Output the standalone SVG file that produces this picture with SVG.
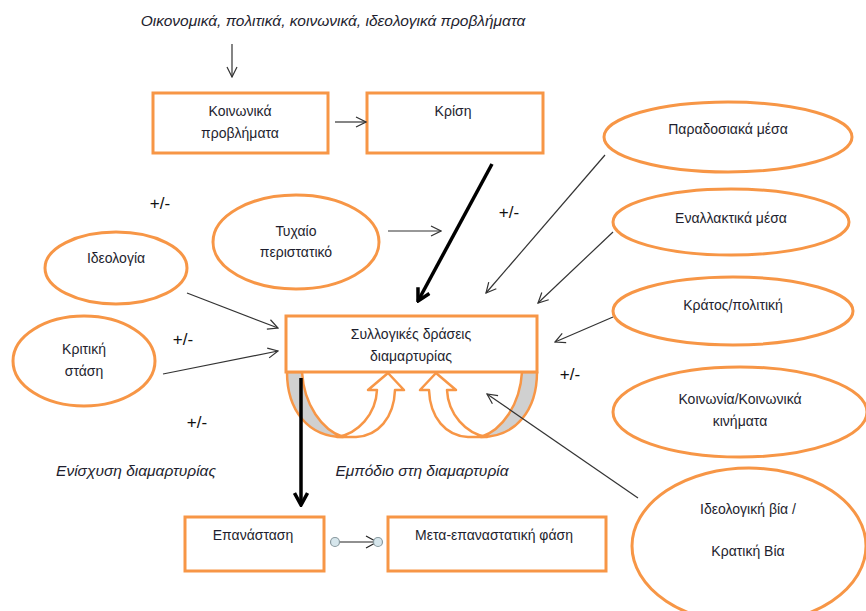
<svg xmlns="http://www.w3.org/2000/svg" width="866" height="611" viewBox="0 0 866 611">
<defs>
<style>
.box{fill:#fff;stroke:#f79646;stroke-width:3}
.ell{fill:#fff;stroke:#f79646;stroke-width:3}
.t{font-family:"Liberation Sans",Arial,sans-serif;font-size:14px;fill:#1e1e2e;text-anchor:middle}
.it{font-style:italic;font-size:15.5px}
.pm{font-family:"Liberation Sans",Arial,sans-serif;font-size:17px;fill:#111;text-anchor:middle}
.thin{stroke:#333;stroke-width:1.2;fill:none;marker-end:url(#open)}
.thick{stroke:#000;stroke-width:3.5;fill:none;marker-end:url(#bold)}
.grey{fill:#d0d0d0;stroke:#f79646;stroke-width:2.5;stroke-linejoin:round}
.front{fill:#fff;stroke:#f79646;stroke-width:2.5;stroke-linejoin:round}
.dot{fill:#d6e6ec;stroke:#8a9aa0;stroke-width:1.2}
</style>
<marker id="open" viewBox="0 0 12 12" refX="11" refY="6" markerWidth="12" markerHeight="12" markerUnits="userSpaceOnUse" orient="auto">
<path d="M1,1 L11,6 L1,11" fill="none" stroke="#333" stroke-width="1.2"/>
</marker>
<marker id="bold" viewBox="0 0 16 16" refX="14" refY="8" markerWidth="16" markerHeight="16" markerUnits="userSpaceOnUse" orient="auto">
<path d="M2,1.5 L14,8 L2,14.5" fill="none" stroke="#000" stroke-width="3.5" stroke-linejoin="miter"/>
</marker>
</defs>
<rect width="866" height="611" fill="#fff"/>

<text class="t it" x="333" y="26">Οικονομικά, πολιτικά, κοινωνικά, ιδεολογικά προβλήματα</text>

<g id="n-koinonika">
<rect class="box" x="153" y="93" width="175" height="60"/>
<text class="t" x="240" y="116">Κοινωνικά</text>
<text class="t" x="240" y="138">προβλήματα</text>
</g>
<g id="n-krisi">
<rect class="box" x="367" y="93" width="176" height="60"/>
<text class="t" x="453" y="116">Κρίση</text>
</g>

<g id="n-ideologia">
<ellipse class="ell" cx="116" cy="268" rx="71" ry="36"/>
<text class="t" x="116" y="263">Ιδεολογία</text>
</g>
<g id="n-kritiki">
<ellipse class="ell" cx="84" cy="361" rx="71" ry="45"/>
<text class="t" x="84" y="354">Κριτική</text>
<text class="t" x="84" y="376">στάση</text>
</g>
<g id="n-tyxaio">
<ellipse class="ell" cx="296" cy="242" rx="83" ry="47"/>
<text class="t" x="296" y="236">Τυχαίο</text>
<text class="t" x="296" y="257">περιστατικό</text>
</g>

<g id="n-paradosiaka">
<ellipse class="ell" cx="728" cy="137" rx="124" ry="35"/>
<text class="t" x="728" y="134">Παραδοσιακά μέσα</text>
</g>
<g id="n-enallaktika">
<ellipse class="ell" cx="731" cy="222" rx="118" ry="33"/>
<text class="t" x="731" y="223">Εναλλακτικά μέσα</text>
</g>
<g id="n-kratos">
<ellipse class="ell" cx="733" cy="311" rx="120" ry="34"/>
<text class="t" x="733" y="310">Κράτος/πολιτική</text>
</g>
<g id="n-koinonia">
<ellipse class="ell" cx="740" cy="412" rx="127" ry="45"/>
<text class="t" x="740" y="404">Κοινωνία/Κοινωνικά</text>
<text class="t" x="740" y="426">κινήματα</text>
</g>
<g id="n-via">
<ellipse class="ell" cx="749" cy="546" rx="117" ry="78"/>
<text class="t" x="748" y="514">Ιδεολογική βία /</text>
<text class="t" x="748" y="556">Κρατική Βία</text>
</g>

<g id="n-syllogikes">
<path class="grey" d="M287,372 C287,410 308,437 343,437 C322,430 304,405 302,372 Z"/>
<path class="front" d="M337,437 C358,434 376,414 377,390 L368,390 L388,373 L404,390 L395,390 C394,418 378,436 356,437 Z"/>
<path class="grey" d="M537,372 C537,410 516,437 481,437 C502,430 520,405 522,372 Z"/>
<path class="front" d="M487,437 C466,434 448,414 447,390 L456,390 L436,373 L420,390 L429,390 C430,418 446,436 468,437 Z"/>
<rect class="box" x="286" y="316" width="251" height="56"/>
<text class="t" x="411" y="339">Συλλογικές δράσεις</text>
<text class="t" x="411" y="361">διαμαρτυρίας</text>
</g>

<g id="n-epanastasi">
<rect class="box" x="185" y="517" width="139" height="54"/>
<text class="t" x="253" y="540">Επανάσταση</text>
</g>
<g id="n-meta">
<rect class="box" x="388" y="517" width="218" height="54"/>
<text class="t" x="494" y="540">Μετα-επαναστατική φάση</text>
</g>

<g id="connectors">
<line class="thin" x1="232" y1="44" x2="232" y2="77"/>
<line class="thin" x1="335" y1="122" x2="366" y2="122"/>
<line class="thick" x1="492" y1="164" x2="418" y2="301"/>
<line class="thin" x1="388" y1="231" x2="441" y2="231"/>
<line class="thin" x1="187" y1="293" x2="278" y2="328"/>
<line class="thin" x1="163" y1="374" x2="278" y2="351"/>
<line class="thin" x1="605" y1="155" x2="486" y2="293"/>
<line class="thin" x1="613" y1="232" x2="538" y2="303"/>
<line class="thin" x1="613" y1="317" x2="555" y2="342"/>
<line class="thin" x1="638" y1="498" x2="487" y2="394"/>
<line class="thick" x1="301" y1="378" x2="301" y2="505"/>
<g id="link-epan-meta">
<line x1="335" y1="542" x2="377" y2="542" stroke="#222" stroke-width="1.2"/>
<path d="M366,536 L377,542 L366,548" fill="none" stroke="#222" stroke-width="1.2"/>
<circle class="dot" cx="335" cy="542" r="4.5"/>
<circle class="dot" cx="378" cy="542" r="4.5"/>
</g>
</g>

<text class="pm" x="160" y="209">+/-</text>
<text class="pm" x="183" y="345">+/-</text>
<text class="pm" x="509" y="218">+/-</text>
<text class="pm" x="570" y="380">+/-</text>
<text class="pm" x="197" y="428">+/-</text>

<text class="t it" x="136" y="476">Ενίσχυση διαμαρτυρίας</text>
<text class="t it" x="422" y="476">Εμπόδιο στη διαμαρτυρία</text>
</svg>
